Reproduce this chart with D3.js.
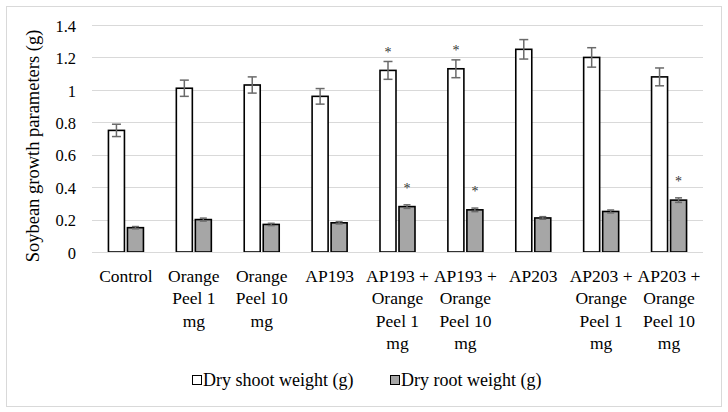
<!DOCTYPE html>
<html><head><meta charset="utf-8">
<script src="https://cdn.jsdelivr.net/npm/d3@7"></script>
<style>
html,body{margin:0;padding:0;background:#fff;}
</style></head>
<body>
<svg id="chart" width="728" height="412" font-family="'Liberation Serif','Times New Roman',Times,'DejaVu Serif',serif"></svg>
<script>
const categories = [
  ["Control"],
  ["Orange","Peel 1","mg"],
  ["Orange","Peel 10","mg"],
  ["AP193"],
  ["AP193 +","Orange","Peel 1","mg"],
  ["AP193 +","Orange","Peel 10","mg"],
  ["AP203"],
  ["AP203 +","Orange","Peel 1","mg"],
  ["AP203 +","Orange","Peel 10","mg"]
];
const seriesNames = ["Dry shoot weight (g)", "Dry root weight (g)"];
const shootValues = [0.75, 1.01, 1.03, 0.96, 1.12, 1.13, 1.25, 1.20, 1.08];
const shootErrors = [0.038, 0.05, 0.05, 0.048, 0.055, 0.055, 0.06, 0.06, 0.055];
const rootValues  = [0.15, 0.20, 0.17, 0.18, 0.28, 0.26, 0.21, 0.25, 0.32];
const rootErrors  = [0.007, 0.009, 0.007, 0.007, 0.011, 0.011, 0.008, 0.009, 0.014];
const shootStars  = [false, false, false, false, true, true, false, false, false];
const rootStars   = [false, false, false, false, true, true, false, false, true];
const yTicks = [0, 0.2, 0.4, 0.6, 0.8, 1, 1.2, 1.4];

(function(){
const FONT = "'Liberation Serif','Times New Roman',Times,'DejaVu Serif',serif";
const svg = d3.select("#chart");
svg.append("rect").attr("x",6.5).attr("y",6.5).attr("width",715).attr("height",400)
  .attr("fill","#fff").attr("stroke","#d9d9d9").attr("stroke-width",1);

const pL = 92, pR = 703, pT = 25, pB = 252;
const x = d3.scaleBand().domain(d3.range(categories.length)).range([pL, pR]).padding(0);
const y = d3.scaleLinear().domain([0, 1.4]).range([pB, pT]);

svg.append("g").selectAll("line").data(yTicks.filter(d=>d>0)).join("line")
  .attr("x1",pL).attr("x2",pR)
  .attr("y1",d=>Math.round(y(d))+0.5).attr("y2",d=>Math.round(y(d))+0.5)
  .attr("stroke","#d9d9d9").attr("stroke-width",1);

const yAxis = d3.axisLeft(y).tickValues(yTicks).tickSize(0).tickPadding(0)
  .tickFormat(d=>d3.format("~g")(d));
const yg = svg.append("g").attr("transform",`translate(76,1)`).call(yAxis);
yg.attr("font-family",FONT).attr("font-size",16.5);
yg.select(".domain").remove();
yg.selectAll("text").attr("fill","#000");

svg.append("text").attr("transform",`translate(39,146) rotate(-90)`)
  .attr("text-anchor","middle").attr("font-size","18.5px").attr("font-family",FONT)
  .text("Soybean growth parameters (g)");

const barW = 16, gap = 3;
const bw = x.bandwidth();
const series = [
  {vals: shootValues, errs: shootErrors, stars: shootStars, fill:"#ffffff", off:-gap/2-barW, cap:4.5, starOff:12},
  {vals: rootValues, errs: rootErrors, stars: rootStars, fill:"#a6a6a6", off:gap/2, cap:3.5, starOff:19.5}
];
series.forEach(s=>{
  svg.append("g").selectAll("rect").data(s.vals).join("rect")
    .attr("x",(d,i)=>x(i)+bw/2+s.off)
    .attr("y",d=>y(d))
    .attr("width",barW)
    .attr("height",d=>pB-y(d))
    .attr("fill",s.fill).attr("stroke","#000").attr("stroke-width",1.6);
});

svg.append("line").attr("x1",pL).attr("x2",pR).attr("y1",pB+0.5).attr("y2",pB+0.5)
  .attr("stroke","#d9d9d9").attr("stroke-width",1);

series.forEach(s=>{
  const g = svg.append("g").attr("stroke","#6a6a6a").attr("stroke-width",1.5);
  s.vals.forEach((v,i)=>{
    const cx = x(i)+bw/2+s.off+barW/2;
    const e = s.errs[i];
    g.append("line").attr("x1",cx).attr("x2",cx).attr("y1",y(v+e)).attr("y2",y(v-e));
    g.append("line").attr("x1",cx-s.cap).attr("x2",cx+s.cap).attr("y1",y(v+e)).attr("y2",y(v+e));
    g.append("line").attr("x1",cx-s.cap).attr("x2",cx+s.cap).attr("y1",y(v-e)).attr("y2",y(v-e));
  });
  svg.append("g").selectAll("text").data(s.vals.map((v,i)=>({v,i})).filter(d=>s.stars[d.i])).join("text")
    .attr("x",d=>x(d.i)+bw/2+s.off+barW/2)
    .attr("y",d=>y(d.v+s.errs[d.i])-s.starOff+7.5)
    .attr("text-anchor","middle").attr("font-size","14px").attr("font-family",FONT)
    .attr("fill","#333")
    .text("*");
});

const cg = svg.append("g").attr("font-family",FONT);
categories.forEach((lines,i)=>{
  const t = cg.append("text").attr("x",x(i)+bw/2).attr("y",282)
    .attr("text-anchor","middle").attr("font-size","17.5px").attr("fill","#000");
  lines.forEach((ln,j)=>{
    t.append("tspan").attr("x",x(i)+bw/2).attr("dy",j===0?0:22.3).text(ln);
  });
});

const legend = svg.append("g").attr("font-family",FONT);
const legendX = [191, 389];
seriesNames.forEach((n,i)=>{
  legend.append("rect").attr("x",legendX[i]+1.5).attr("y",375.5).attr("width",9).attr("height",9)
    .attr("fill",series[i].fill).attr("stroke","#000").attr("stroke-width",1);
  legend.append("text").attr("x",legendX[i]+12).attr("y",385.5).attr("font-size","18px").attr("fill","#000").text(n);
});
})();
</script>
</body></html>
